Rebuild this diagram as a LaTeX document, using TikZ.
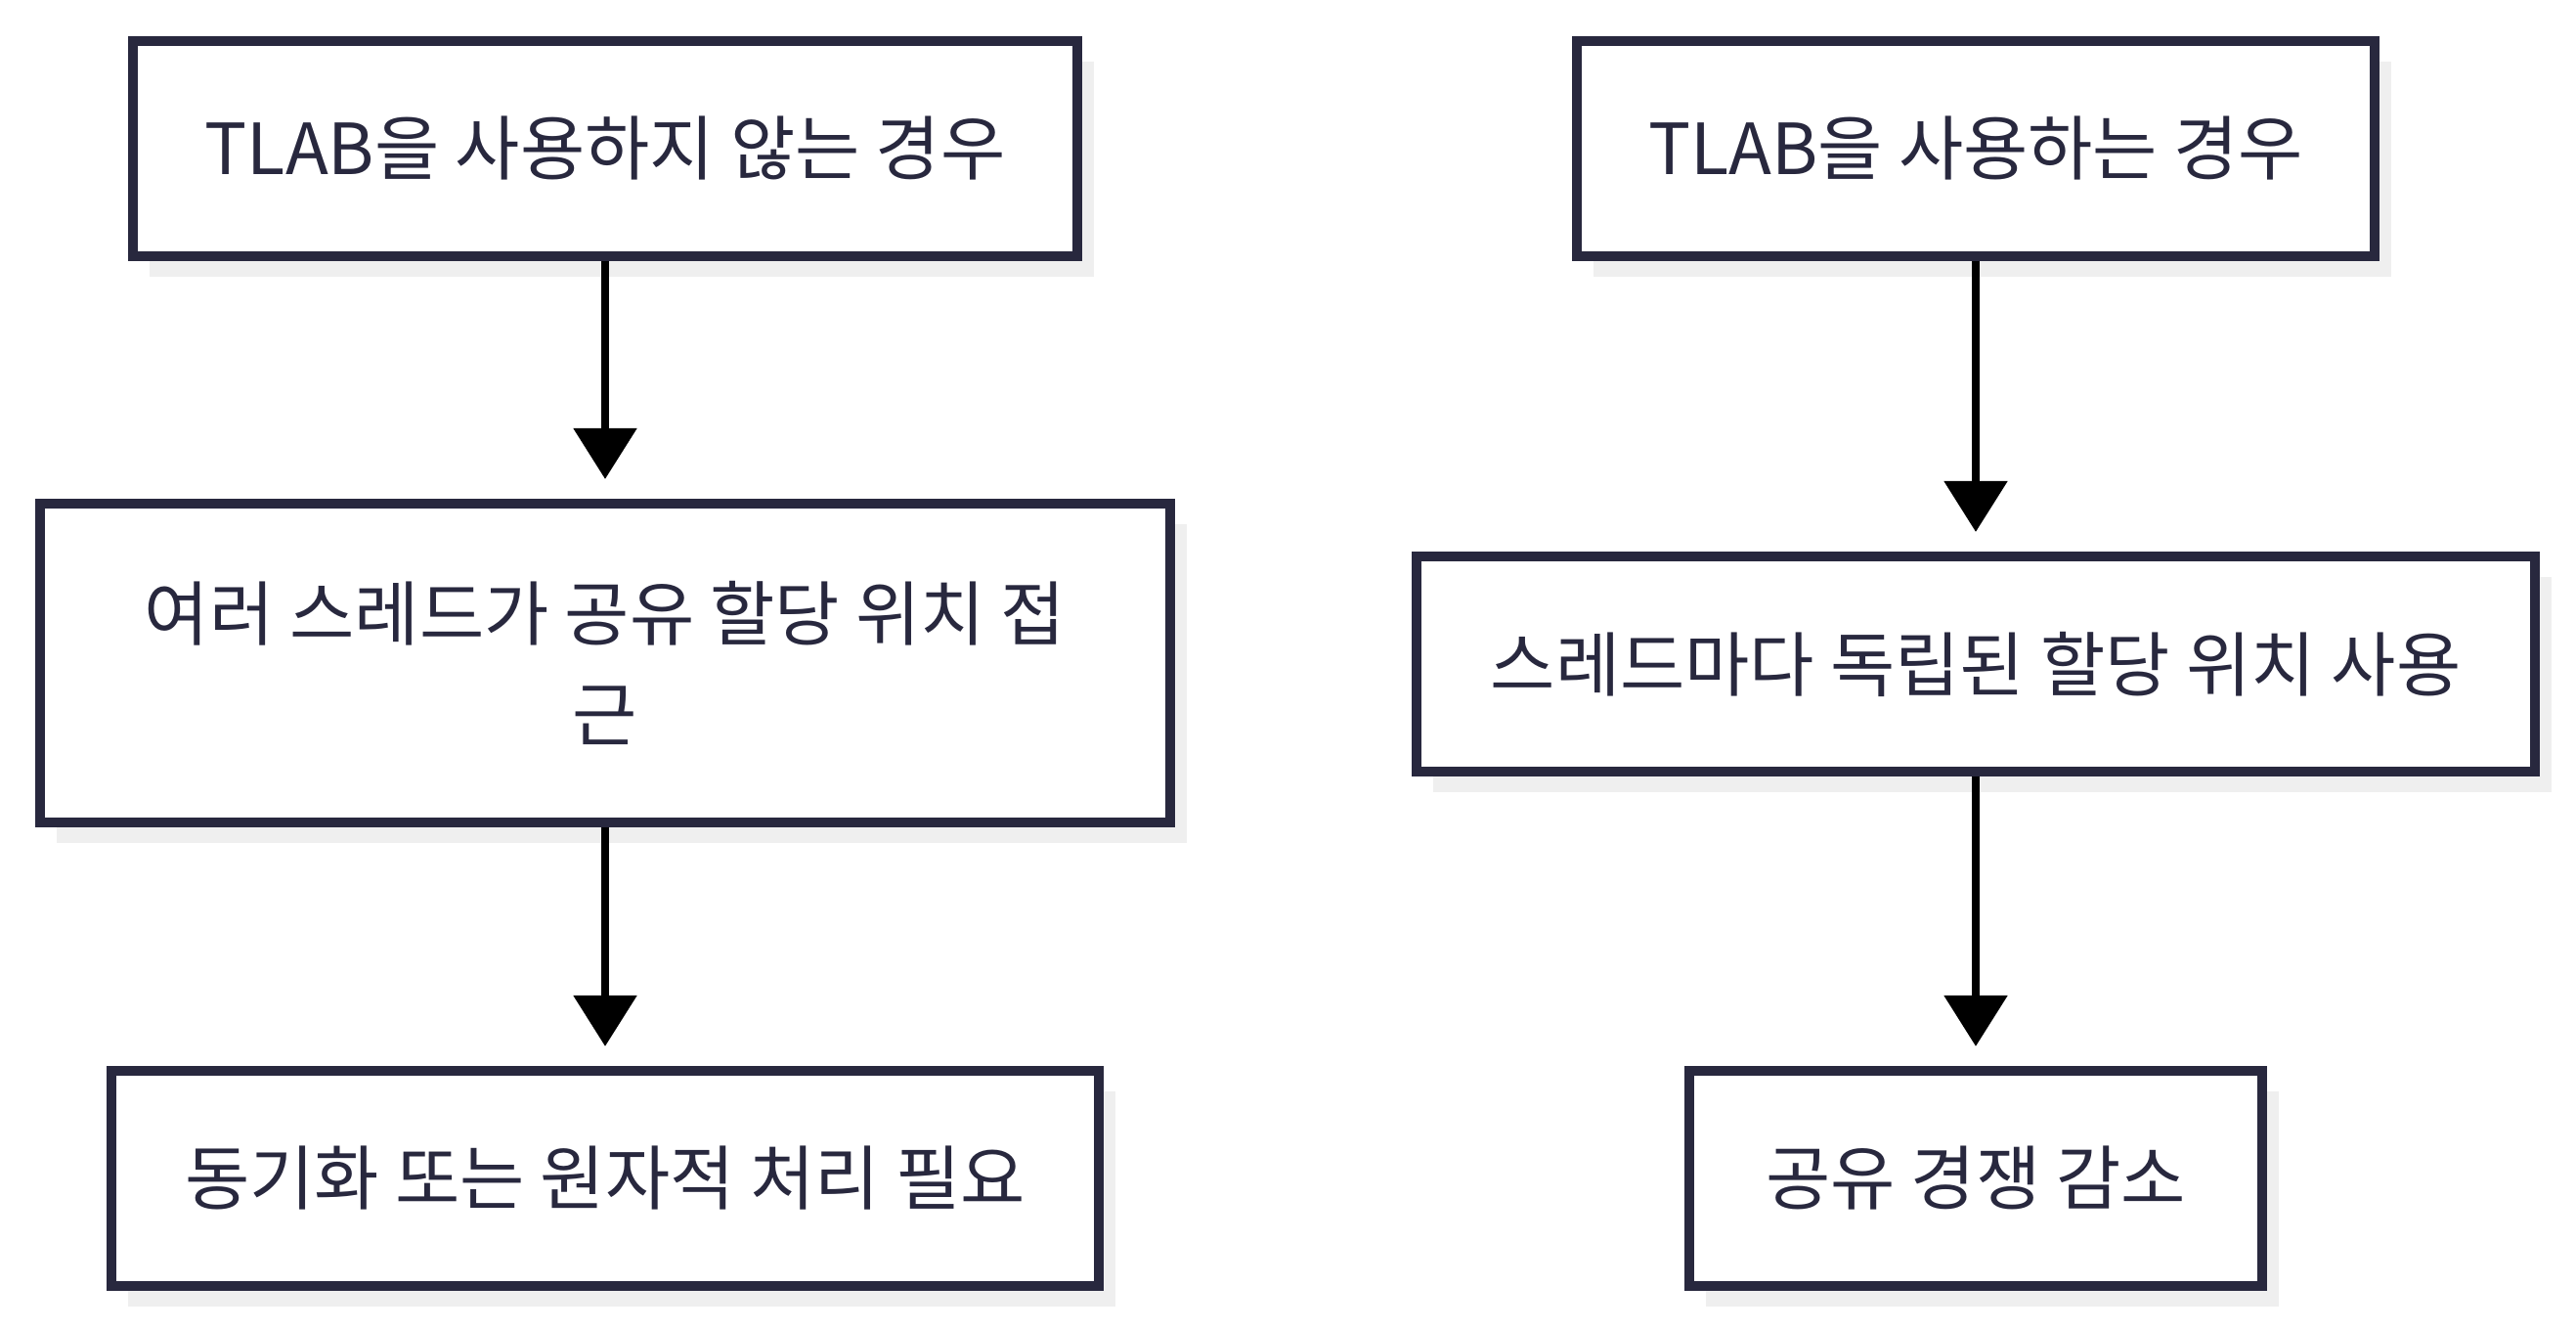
\documentclass[tikz,border=0pt]{standalone}
\usepackage{fontspec}
\setmainfont{Noto Sans CJK KR}
\usepackage{tikz}
\usetikzlibrary{arrows.meta,shadows}
\definecolor{boxline}{HTML}{28283E}
\definecolor{boxshade}{HTML}{EFEFEF}

\begin{document}
\begin{tikzpicture}[
        stepbox/.style={draw=boxline, line width=0.1cm, fill=white, text=boxline,
            minimum height=2.2cm, align=center,
            font=\fontsize{20.5}{29.5}\selectfont,
            general shadow={fill=boxshade, shadow xshift=0.17cm, shadow yshift=-0.21cm}},
        flow/.style={draw=black, line width=0.087cm, shorten >=0.2cm,
            -{Triangle[width=0.63cm, length=0.52cm]}}
    ]
        \useasboundingbox (0, 0) rectangle (26.35, 13.6);
        % left column
        \node[stepbox, minimum width=9.66cm] (noTlab) at (6.19, 12.08) {TLAB을 사용하지 않는 경우};
        \node[stepbox, minimum width=11.56cm, minimum height=3.26cm] (shared) at (6.19, 6.82) {여러 스레드가 공유 할당 위치 접\\근};
        \node[stepbox, minimum width=10.10cm] (sync) at (6.19, 1.55) {동기화 또는 원자적 처리 필요};
        % right column
        \node[stepbox, minimum width=8.16cm] (useTlab) at (20.21, 12.08) {TLAB을 사용하는 경우};
        \node[stepbox, minimum width=11.44cm] (own) at (20.21, 6.81) {스레드마다 독립된 할당 위치 사용};
        \node[stepbox, minimum width=5.86cm] (less) at (20.21, 1.55) {공유 경쟁 감소};
        \draw[flow] (noTlab) -- (shared);
        \draw[flow] (shared) -- (sync);
        \draw[flow] (useTlab) -- (own);
        \draw[flow] (own) -- (less);
      \end{tikzpicture}
\end{document}
